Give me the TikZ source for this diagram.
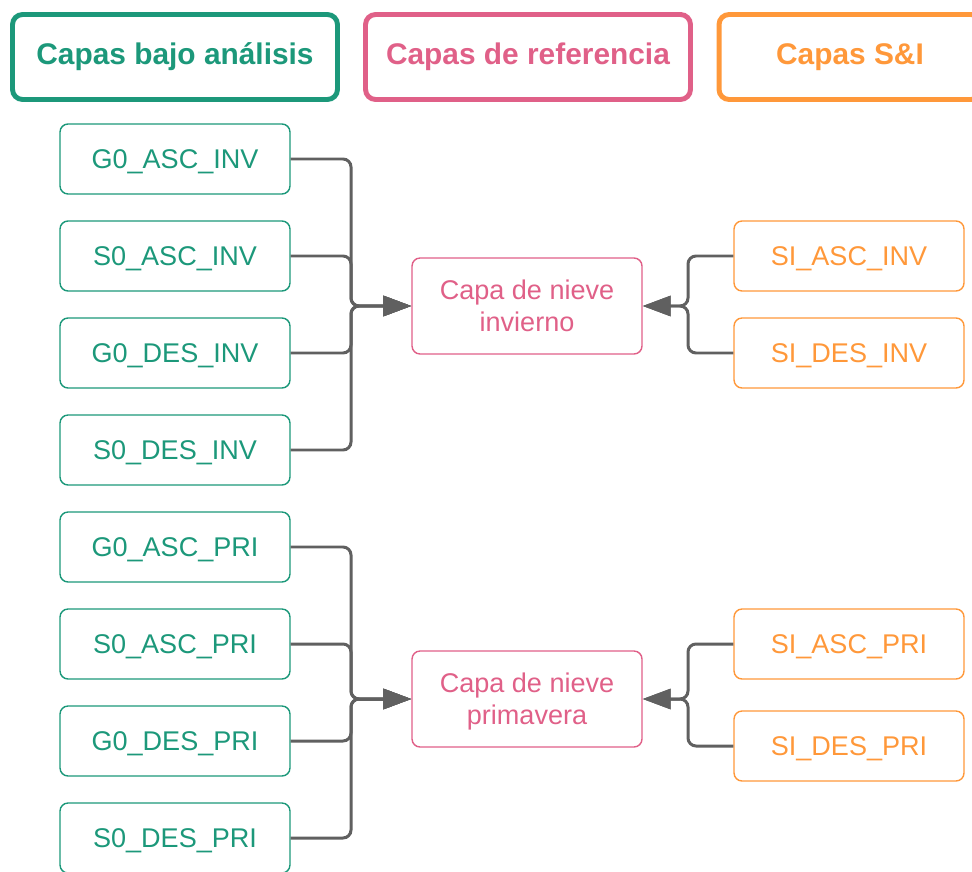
\documentclass[tikz,border=0pt]{standalone}
\usepackage{fontspec}
\setmainfont{Liberation Sans}
\usetikzlibrary{arrows.meta}
\definecolor{teal1}{RGB}{28,152,122}
\definecolor{pink1}{RGB}{224,96,136}
\definecolor{orange1}{RGB}{255,152,58}
\definecolor{gray1}{RGB}{96,96,96}
\begin{document}
\begin{tikzpicture}[x=0.02cm,y=-0.02cm]
\tikzstyle{head}=[draw,line width=2.8pt,rounded corners=0.2cm,minimum width=6.5cm,minimum height=1.7cm,inner sep=0pt,font=\fontsize{17}{20}\selectfont\bfseries]
\tikzstyle{layer}=[draw,line width=0.8pt,rounded corners=0.16cm,minimum width=4.6cm,minimum height=1.4cm,inner sep=0pt,text depth=0pt,font=\fontsize{15.4}{18}\selectfont]
\tikzstyle{refl}=[layer,draw=pink1,text=pink1,minimum height=1.92cm,align=center]
\tikzstyle{conn}=[draw=gray1,line width=1.7pt,rounded corners=0.16cm,-{Triangle[length=0.56cm,width=0.4cm]}]
\useasboundingbox (0,0) rectangle (972,871);
\clip (0,0) rectangle (972,871);

\path (175,57) node[head,draw=teal1,text=teal1](h1){Capas bajo análisis}
 (528,57) node[head,draw=pink1,text=pink1](h2){Capas de referencia}
 (850,57) node[head,draw=orange1,text=orange1,minimum width=5.24cm](h3){Capas S\&I};

\path (175,159) node[layer,draw=teal1,text=teal1](l1){G0\_ASC\_INV}
 (175,256) node[layer,draw=teal1,text=teal1](l2){S0\_ASC\_INV}
 (175,353) node[layer,draw=teal1,text=teal1](l3){G0\_DES\_INV}
 (175,450) node[layer,draw=teal1,text=teal1](l4){S0\_DES\_INV}
 (175,547) node[layer,draw=teal1,text=teal1](l5){G0\_ASC\_PRI}
 (175,644) node[layer,draw=teal1,text=teal1](l6){S0\_ASC\_PRI}
 (175,741) node[layer,draw=teal1,text=teal1](l7){G0\_DES\_PRI}
 (175,838) node[layer,draw=teal1,text=teal1](l8){S0\_DES\_PRI};

\path (527,306) node[refl](m1){Capa de nieve\\invierno}
 (527,699) node[refl](m2){Capa de nieve\\primavera};

\path (849,256) node[layer,draw=orange1,text=orange1](r1){SI\_ASC\_INV}
 (849,353) node[layer,draw=orange1,text=orange1](r2){SI\_DES\_INV}
 (849,644) node[layer,draw=orange1,text=orange1](r3){SI\_ASC\_PRI}
 (849,746) node[layer,draw=orange1,text=orange1](r4){SI\_DES\_PRI};

\coordinate (jl1) at (351,306);
\coordinate (jl2) at (351,699);
\coordinate (jr1) at (688,306);
\coordinate (jr2) at (688,699);

\draw[conn] (l1.east) -| (jl1) -- (m1.west);
\draw[conn] (l2.east) -| (jl1) -- (m1.west);
\draw[conn] (l3.east) -| (jl1) -- (m1.west);
\draw[conn] (l4.east) -| (jl1) -- (m1.west);
\draw[conn] (l5.east) -| (jl2) -- (m2.west);
\draw[conn] (l6.east) -| (jl2) -- (m2.west);
\draw[conn] (l7.east) -| (jl2) -- (m2.west);
\draw[conn] (l8.east) -| (jl2) -- (m2.west);
\draw[conn] (r1.west) -| (jr1) -- (m1.east);
\draw[conn] (r2.west) -| (jr1) -- (m1.east);
\draw[conn] (r3.west) -| (jr2) -- (m2.east);
\draw[conn] (r4.west) -| (jr2) -- (m2.east);
\end{tikzpicture}
\end{document}
